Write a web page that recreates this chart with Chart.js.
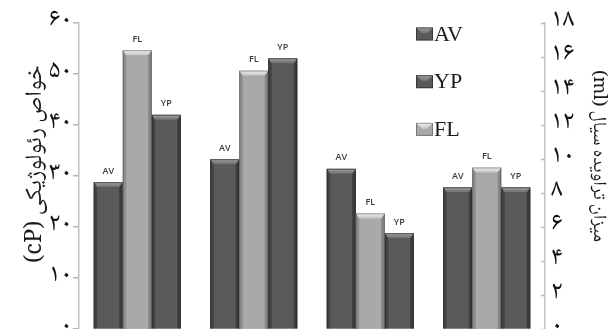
<!DOCTYPE html>
<html>
<head>
<meta charset="utf-8">
<script src="https://cdn.jsdelivr.net/npm/chart.js@4.4.0/dist/chart.umd.min.js"></script>
<style>
  html, body { margin: 0; padding: 0; background: #fff; overflow: hidden; }
  #wrap { position: relative; width: 613px; height: 345px; }
</style>
</head>
<body>
<div id="wrap"><canvas id="chart"></canvas></div>
<script>
// ---- data ----
const categories = ['نمونه ۱', 'نمونه ۲', 'نمونه ۳', 'نمونه ۴'];
const avValues = [28.8, 33.3, 31.4, 27.8];   // cP, left axis
const flValues = [16.4, 15.2, 6.8, 9.5];     // ml, right axis
const ypValues = [42.0, 53.1, 18.8, 27.8];   // cP, left axis
const leftTicks = [0, 10, 20, 30, 40, 50, 60];
const rightTicks = [0, 2, 4, 6, 8, 10, 12, 14, 16, 18];
const legendOrder = ['AV', 'YP', 'FL'];
const leftTitle = 'خواص رئولوژیکی (cP)';
const rightTitle = 'میزان تراویده سیال (ml)';

const FA_FONT = '"Noto Naskh Arabic", "Noto Sans Arabic", "DejaVu Sans", sans-serif';
const toFa = v => String(v).replace(/\d/g, d => '۰۱۲۳۴۵۶۷۸۹'[d]);

// shading for the bevelled bars
const SHADES = {
  dark:  { body: '#5a5a5a', side: '#444444', sideR: '#3c3c3c', top1: '#a2a2a2', top2: '#6e6e6e', line: 'rgba(30,30,30,0.55)' },
  light: { body: '#a9a9a9', side: '#8e8e8e', sideR: '#868686', top1: '#f2f2f2', top2: '#c4c4c4', line: 'rgba(60,60,60,0.45)' }
};

function drawBevelBar(ctx, bar, shade) {
  const p = bar.getProps(['x', 'y', 'width', 'base'], true);
  const l = p.x - p.width / 2, r = p.x + p.width / 2, t = p.y, b = p.base;
  const inset = 3.5, bev = 5;
  ctx.save();
  ctx.fillStyle = shade.side;
  ctx.beginPath();
  ctx.moveTo(l, t); ctx.lineTo(l + inset, t + bev); ctx.lineTo(l + inset, b); ctx.lineTo(l, b);
  ctx.closePath(); ctx.fill();
  ctx.fillStyle = shade.sideR;
  ctx.beginPath();
  ctx.moveTo(r, t); ctx.lineTo(r - inset, t + bev); ctx.lineTo(r - inset, b); ctx.lineTo(r, b);
  ctx.closePath(); ctx.fill();
  const g = ctx.createLinearGradient(0, t, 0, t + bev);
  g.addColorStop(0, shade.top1);
  g.addColorStop(1, shade.top2);
  ctx.fillStyle = g;
  ctx.beginPath();
  ctx.moveTo(l, t); ctx.lineTo(r, t); ctx.lineTo(r - inset, t + bev); ctx.lineTo(l + inset, t + bev);
  ctx.closePath(); ctx.fill();
  ctx.strokeStyle = shade.line;
  ctx.lineWidth = 1;
  ctx.strokeRect(l + 0.5, t + 0.5, p.width - 1, b - t);
  ctx.restore();
}

const barStyle = {
  id: 'barStyle',
  afterDatasetsDraw(chart) {
    const ctx = chart.ctx;
    chart.data.datasets.forEach((ds, i) => {
      chart.getDatasetMeta(i).data.forEach(bar => drawBevelBar(ctx, bar, SHADES[ds.shade]));
    });
    // series name above each bar
    ctx.save();
    ctx.font = '600 9px "Open Sans", sans-serif';
    ctx.fillStyle = '#3a3a3a';
    ctx.textAlign = 'center';
    ctx.textBaseline = 'middle';
    chart.data.datasets.forEach((ds, i) => {
      chart.getDatasetMeta(i).data.forEach(bar => {
        const p = bar.getProps(['x', 'y'], true);
        ctx.fillText(ds.label, p.x, p.y - 11);
      });
    });
    ctx.restore();
  }
};

// rotated RTL title fitted to a given length
function drawTitle(ctx, text, cx, cy, angle, length) {
  ctx.save();
  ctx.direction = 'rtl';
  ctx.font = '20px ' + FA_FONT;
  const size = 20 * length / ctx.measureText(text).width;
  ctx.font = size.toFixed(1) + 'px ' + FA_FONT;
  ctx.fillStyle = '#1a1a1a';
  ctx.textAlign = 'center';
  ctx.textBaseline = 'middle';
  ctx.translate(cx, cy);
  ctx.rotate(angle);
  ctx.fillText(text, 0, 0);
  ctx.restore();
}

const decorations = {
  id: 'decorations',
  afterDraw(chart) {
    const ctx = chart.ctx;
    const yR = chart.scales.y2;
    // right axis ticks point into the plot
    ctx.save();
    ctx.strokeStyle = '#b8b8b8';
    ctx.lineWidth = 1.5;
    rightTicks.forEach(v => {
      const y = Math.round(yR.getPixelForValue(v)) + 0.5;
      ctx.beginPath();
      ctx.moveTo(yR.left - 4, y);
      ctx.lineTo(yR.left, y);
      ctx.stroke();
    });
    ctx.restore();

    drawTitle(ctx, leftTitle, 38, 164, -Math.PI / 2, 198);
    drawTitle(ctx, rightTitle, 596, 156, Math.PI / 2, 172);

    // legend inside the plot
    ctx.save();
    const x0 = 416;
    let base = 40.5;
    legendOrder.forEach(name => {
      const ds = chart.data.datasets.find(d => d.label === name);
      const sh = SHADES[ds.shade];
      const bw = 17, bh = 13, by = base - bh;
      ctx.fillStyle = sh.body;
      ctx.fillRect(x0, by, bw, bh);
      const g = ctx.createLinearGradient(0, by, 0, by + 6);
      g.addColorStop(0, sh.top1);
      g.addColorStop(1, sh.top2);
      ctx.fillStyle = g;
      ctx.beginPath();
      ctx.moveTo(x0, by); ctx.lineTo(x0 + bw, by); ctx.lineTo(x0 + bw / 2 + 2, by + 6); ctx.lineTo(x0 + bw / 2 - 2, by + 6);
      ctx.closePath(); ctx.fill();
      ctx.strokeStyle = sh.line;
      ctx.lineWidth = 1;
      ctx.strokeRect(x0 + 0.5, by + 0.5, bw - 1, bh - 1);
      ctx.font = '22px "Liberation Serif", "Times New Roman", serif';
      ctx.fillStyle = '#1a1a1a';
      ctx.textAlign = 'left';
      ctx.textBaseline = 'alphabetic';
      ctx.fillText(name, x0 + bw + 1, base);
      base += 47.7;
    });
    ctx.restore();
  }
};

// the plot runs to the lower edge of the window: no extra room is kept for end labels
const noEndPadding = s => { s.paddingTop = 0; s.paddingBottom = 0; };

new Chart(document.getElementById('chart'), {
  type: 'bar',
  data: {
    labels: categories,
    datasets: [
      { label: 'AV', data: avValues, yAxisID: 'y',  backgroundColor: SHADES.dark.body,  shade: 'dark' },
      { label: 'FL', data: flValues, yAxisID: 'y2', backgroundColor: SHADES.light.body, shade: 'light' },
      { label: 'YP', data: ypValues, yAxisID: 'y',  backgroundColor: SHADES.dark.body,  shade: 'dark' }
    ]
  },
  options: {
    responsive: true,
    maintainAspectRatio: false,
    animation: false,
    devicePixelRatio: 1,
    layout: { padding: { top: 23, right: 0, bottom: 16, left: 0 } },
    datasets: { bar: { categoryPercentage: 0.747, barPercentage: 1.0, borderWidth: 0 } },
    plugins: { legend: { display: false }, tooltip: { enabled: false } },
    scales: {
      x: { display: false },
      y: {
        position: 'left',
        min: 0, max: 60,
        afterBuildTicks: s => { s.ticks = leftTicks.map(v => ({ value: v })); },
        afterFit: s => { s.width = 79; noEndPadding(s); },
        grid: { drawOnChartArea: false, drawTicks: true, tickLength: 6, color: '#b5b5b5', lineWidth: 1.5 },
        border: { display: true, color: '#c2c2c2', width: 1.5 },
        ticks: { autoSkip: false, padding: 1, color: '#111', font: { family: FA_FONT, size: 26 }, callback: v => toFa(v) }
      },
      y2: {
        position: 'right',
        min: 0, max: 18,
        afterBuildTicks: s => { s.ticks = rightTicks.map(v => ({ value: v })); },
        afterFit: s => { s.width = 68; noEndPadding(s); },
        grid: { drawOnChartArea: false, drawTicks: false },
        border: { display: true, color: '#c2c2c2', width: 1.5 },
        ticks: { autoSkip: false, padding: 6, color: '#111', font: { family: FA_FONT, size: 26 }, callback: v => toFa(v) }
      }
    }
  },
  plugins: [barStyle, decorations]
});
</script>
</body>
</html>
